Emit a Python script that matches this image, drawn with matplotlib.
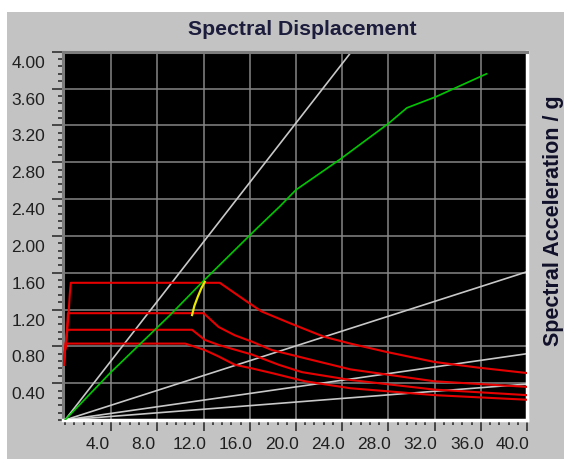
import numpy as np
import matplotlib
matplotlib.use("Agg")
import matplotlib.pyplot as plt
import matplotlib.transforms as mtransforms
from matplotlib.ticker import MultipleLocator
from matplotlib.patches import Rectangle

# capacity curve (green)
cap_sd = [0, 3.9, 9.1, 11.9, 16.6, 18.6, 20.0, 23.8, 28.0, 29.6, 32.1, 36.5]
cap_sa = [0, 0.51, 1.14, 1.50, 2.08, 2.32, 2.50, 2.83, 3.22, 3.39, 3.51, 3.76]

# performance point trace (yellow)
pp_sd = [11.0, 11.2, 11.5, 11.8, 12.1]
pp_sa = [1.14, 1.24, 1.34, 1.43, 1.50]

# demand spectra (red)
d1_sd = [-0.1, 0.0, 0.13, 0.27, 0.33, 0.42, 0.5, 13.4, 15.7, 17.0, 19.5, 22.4, 24.7, 27.8, 32.0, 35.7, 40.0]
d1_sa = [0.60, 0.76, 0.905, 1.09, 1.20, 1.38, 1.49, 1.49, 1.29, 1.18, 1.05, 0.905, 0.83, 0.74, 0.63, 0.57, 0.51]
d2_sd = [-0.1, 0.0, 0.13, 0.2, 0.25, 12.0, 13.3, 14.7, 16.2, 17.9, 20.8, 24.7, 32.0, 40.0]
d2_sa = [0.60, 0.76, 0.905, 1.05, 1.16, 1.16, 1.01, 0.92, 0.85, 0.76, 0.67, 0.55, 0.42, 0.36]
d3_sd = [-0.1, 0.0, 0.13, 0.21, 11.0, 12.1, 13.3, 16.2, 18.5, 20.5, 24.7, 32.0, 40.0]
d3_sa = [0.60, 0.76, 0.905, 0.98, 0.98, 0.87, 0.815, 0.71, 0.60, 0.52, 0.435, 0.33, 0.27]
d4_sd = [-0.1, 0.0, 0.13, 10.4, 12.1, 13.3, 14.7, 16.2, 17.9, 20.8, 24.7, 32.0, 40.0]
d4_sa = [0.60, 0.76, 0.83, 0.83, 0.76, 0.69, 0.60, 0.56, 0.51, 0.42, 0.345, 0.27, 0.22]

# radial period lines (gray), end points
period_end_sd = [24.8, 40.0, 40.0, 40.0]
period_end_sa = [4.0, 1.61, 0.72, 0.39]

x_ticks = [4.0, 8.0, 12.0, 16.0, 20.0, 24.0, 28.0, 32.0, 36.0, 40.0]
y_ticks = [0.4, 0.8, 1.2, 1.6, 2.0, 2.4, 2.8, 3.2, 3.6, 4.0]

plt.rcParams['font.family'] = ['Liberation Sans', 'DejaVu Sans']

W, H = 564, 459
fig = plt.figure(figsize=(W / 100, H / 100), dpi=100)
fig.patch.set_facecolor('white')
fig.add_artist(Rectangle((7 / W, 0), 1, 1 - 12 / H, transform=fig.transFigure,
                         facecolor='#c3c3c3', edgecolor='none', zorder=-10))

ax = fig.add_axes([63.3 / W, 39 / H, (527 - 63.3) / W, (420 - 51.7) / H])
ax.set_facecolor('black')

for ex, ey in zip(period_end_sd, period_end_sa):
    ax.plot([0, ex], [0, ey], color='#c8c8c8', lw=1.2, zorder=2)

for sd, sa in [(d1_sd, d1_sa), (d2_sd, d2_sa), (d3_sd, d3_sa), (d4_sd, d4_sa)]:
    ax.plot(sd, sa, color='#e60000', lw=1.5, zorder=3)

ax.plot(cap_sd, cap_sa, color='#00c800', lw=1.2, zorder=4)
ax.plot(pp_sd, pp_sa, color='#e8e800', lw=1.6, zorder=5)

ax.set_xlim(-0.15, 40)
ax.set_ylim(0, 4.0)
ax.set_xticks(x_ticks)
ax.set_xticklabels([f'{v:.1f}' for v in x_ticks])
ax.set_yticks(y_ticks)
ax.set_yticklabels([f'{v:.2f}' for v in y_ticks])
ax.xaxis.set_minor_locator(MultipleLocator(0.8))
ax.yaxis.set_minor_locator(MultipleLocator(0.08))

ax.grid(True, which='major', color='#868686', lw=1.1)
ax.set_axisbelow(True)

ax.tick_params(which='major', direction='out', length=8, width=1.2, color='#303030',
               labelsize=12.5, labelcolor='#202020')
ax.tick_params(which='minor', direction='out', length=3.5, width=1.2, color='#303030')
ax.tick_params(axis='x', which='major', pad=4)
ax.tick_params(axis='y', which='major', pad=5)

for s in ['top', 'left']:
    ax.spines[s].set_color('#7c7c7c')
    ax.spines[s].set_linewidth(2.2)
for s in ['bottom', 'right']:
    ax.spines[s].set_color('white')
    ax.spines[s].set_linewidth(2.5)

# labels sit a bit off their ticks in the original
dx = mtransforms.ScaledTranslation(-14 / 100, 0, fig.dpi_scale_trans)
dy = mtransforms.ScaledTranslation(0, -10 / 100, fig.dpi_scale_trans)
for lab in ax.get_xticklabels():
    lab.set_transform(lab.get_transform() + dx)
for lab in ax.get_yticklabels():
    lab.set_transform(lab.get_transform() + dy)

fig.text(302 / W, 1 - 35 / H, 'Spectral Displacement', ha='center', va='baseline',
         fontsize=15.3, fontweight='bold', color='#1c1c3c')
fig.text(553 / W, 1 - 221 / H, 'Spectral Acceleration / g', rotation=90,
         ha='center', va='center', fontsize=15.5, fontweight='bold', color='#10102a')

fig.savefig('out.png', dpi=100, facecolor=fig.get_facecolor())
